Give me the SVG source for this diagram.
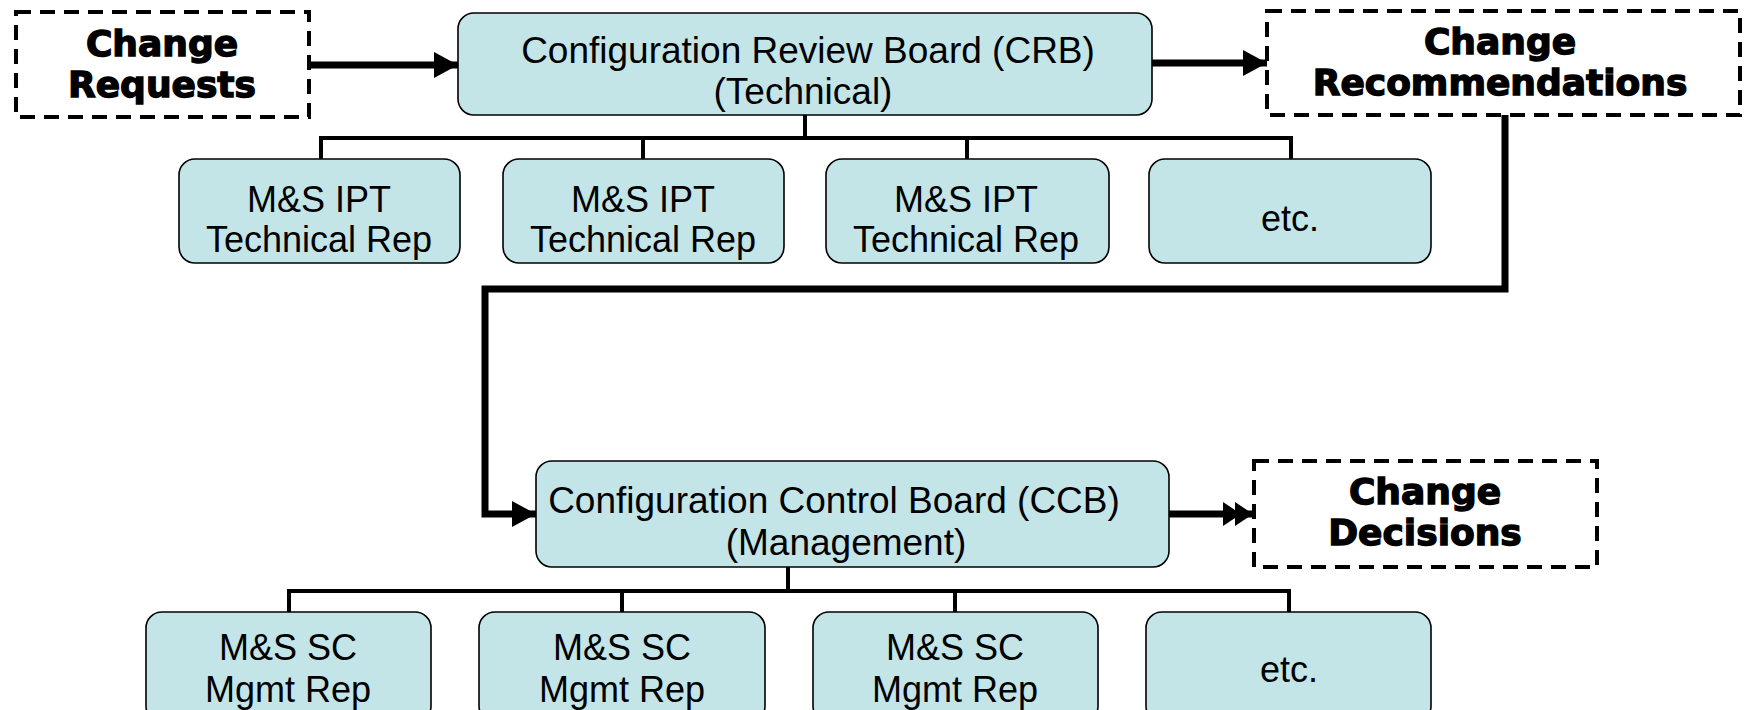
<svg xmlns="http://www.w3.org/2000/svg" width="1748" height="710" viewBox="0 0 1748 710">
<style>
.node{fill:#C4E5E7;stroke:#000;stroke-width:1.6}
.dash{fill:#fff;stroke:#000;stroke-width:4;stroke-dasharray:15 9}
.t{font-family:"Liberation Sans",Arial,sans-serif;font-size:36px;fill:#000;text-anchor:middle}
.tb{font-family:"Liberation Sans",Arial,sans-serif;font-size:37px;fill:#000;text-anchor:middle}
.bold{font-family:"DejaVu Sans",sans-serif;font-weight:bold;font-size:36px;fill:#000;text-anchor:middle;stroke:#000;stroke-width:1.4}
.tree{fill:none;stroke:#000;stroke-width:4}
.thick{fill:none;stroke:#000;stroke-width:7}
</style>
<defs>
<marker id="arr" markerUnits="userSpaceOnUse" markerWidth="26" markerHeight="28" refX="24" refY="13" orient="auto">
<path d="M0,0 L24,13 L0,26 Z" fill="#000"/>
</marker>
<marker id="arr2" markerUnits="userSpaceOnUse" markerWidth="32" markerHeight="28" refX="30" refY="13" orient="auto">
<path d="M0,1 L18,13 L0,25 Z M12,1 L30,13 L12,25 Z" fill="#000"/>
</marker>
</defs>

<g id="connectors">
<path class="thick" d="M310 65 H458" marker-end="url(#arr)"/>
<path class="thick" d="M1152 63 H1267" marker-end="url(#arr)"/>
<path class="thick" d="M1505 115 V289 H485 V514 H536" marker-end="url(#arr)"/>
<path class="thick" d="M1169 514 H1253" marker-end="url(#arr2)"/>
<path class="tree" d="M805 115 V138 M321 159 V138 H1291 V159 M643 138 V159 M967 138 V159"/>
<path class="tree" d="M788 567 V591 M289 612 V591 H1289 V612 M622 591 V612 M955 591 V612"/>
</g>

<g id="change-requests">
<rect class="dash" x="16" y="12" width="293" height="105"/>
<text class="bold" x="162" y="56">Change</text>
<text class="bold" x="162" y="97">Requests</text>
</g>

<g id="crb">
<rect class="node" x="458" y="13" width="694" height="102" rx="16"/>
<text class="tb" x="808" y="63">Configuration Review Board (CRB)</text>
<text class="tb" x="803" y="104">(Technical)</text>
</g>

<g id="change-recommendations">
<rect class="dash" x="1267" y="11" width="473" height="104"/>
<text class="bold" x="1500" y="54">Change</text>
<text class="bold" x="1500" y="95">Recommendations</text>
</g>

<g id="ipt1">
<rect class="node" x="179" y="159" width="281" height="104" rx="16"/>
<text class="t" x="319" y="212">M&amp;S IPT</text>
<text class="t" x="319" y="252">Technical Rep</text>
</g>
<g id="ipt2">
<rect class="node" x="503" y="159" width="281" height="104" rx="16"/>
<text class="t" x="643" y="212">M&amp;S IPT</text>
<text class="t" x="643" y="252">Technical Rep</text>
</g>
<g id="ipt3">
<rect class="node" x="826" y="159" width="283" height="104" rx="16"/>
<text class="t" x="966" y="212">M&amp;S IPT</text>
<text class="t" x="966" y="252">Technical Rep</text>
</g>
<g id="etc1">
<rect class="node" x="1149" y="159" width="282" height="104" rx="16"/>
<text class="t" x="1290" y="231">etc.</text>
</g>

<g id="ccb">
<rect class="node" x="536" y="461" width="633" height="106" rx="16"/>
<text class="tb" x="834" y="513">Configuration Control Board (CCB)</text>
<text class="tb" x="846" y="555">(Management)</text>
</g>

<g id="change-decisions">
<rect class="dash" x="1254" y="461" width="343" height="106"/>
<text class="bold" x="1425" y="504">Change</text>
<text class="bold" x="1425" y="545">Decisions</text>
</g>

<g id="sc1">
<rect class="node" x="146" y="612" width="285" height="110" rx="16"/>
<text class="t" x="288" y="660">M&amp;S SC</text>
<text class="t" x="288" y="702">Mgmt Rep</text>
</g>
<g id="sc2">
<rect class="node" x="479" y="612" width="286" height="110" rx="16"/>
<text class="t" x="622" y="660">M&amp;S SC</text>
<text class="t" x="622" y="702">Mgmt Rep</text>
</g>
<g id="sc3">
<rect class="node" x="813" y="612" width="285" height="110" rx="16"/>
<text class="t" x="955" y="660">M&amp;S SC</text>
<text class="t" x="955" y="702">Mgmt Rep</text>
</g>
<g id="etc2">
<rect class="node" x="1146" y="612" width="285" height="110" rx="16"/>
<text class="t" x="1289" y="682">etc.</text>
</g>
</svg>
